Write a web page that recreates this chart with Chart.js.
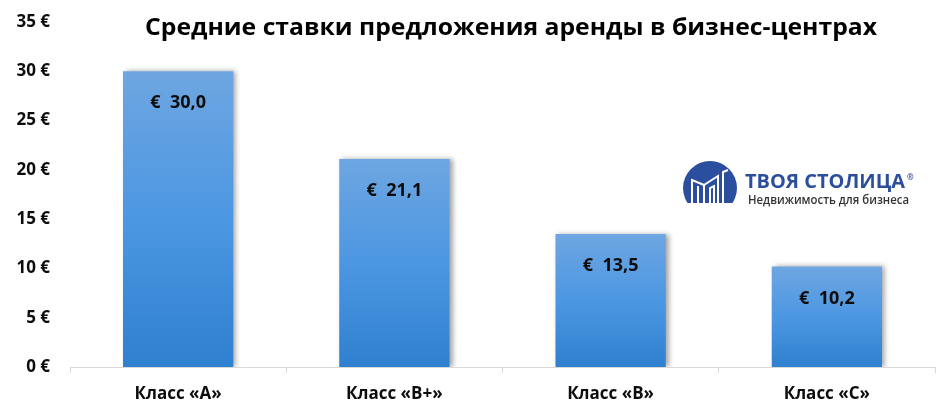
<!DOCTYPE html>
<html>
<head>
<meta charset="utf-8">
<script src="https://cdn.jsdelivr.net/npm/chart.js@4/dist/chart.umd.min.js"></script>
<style>
html,body{margin:0;padding:0;background:#fff;}
#wrap{width:943px;height:409px;position:relative;}
</style>
</head>
<body>
<div id="wrap"><canvas id="c" width="943" height="409"></canvas></div>
<script>
const categories = ['Класс «А»', 'Класс «В+»', 'Класс «В»', 'Класс «С»'];
const values = [30.0, 21.1, 13.5, 10.2];
const titleText = 'Средние ставки предложения аренды в бизнес-центрах';
const logoName = 'ТВОЯ СТОЛИЦА';
const logoTag = 'Недвижимость для бизнеса';
const FONT = '"Open Sans", "DejaVu Sans", sans-serif';

function barGradient(c) {
  const ch = c.chart;
  if (!ch.chartArea || !ch.scales.y) return '#4a93dc';
  const y = ch.scales.y;
  const top = y.getPixelForValue(c.raw);
  const bot = y.getPixelForValue(0);
  const g = ch.ctx.createLinearGradient(0, top, 0, bot);
  g.addColorStop(0, '#6ea6e1');
  g.addColorStop(0.5, '#4c97e2');
  g.addColorStop(1, '#2f80cf');
  return g;
}

function fitText(ctx, text, x, y, targetW) {
  const w = ctx.measureText(text).width;
  const s = targetW / w;
  ctx.save();
  ctx.translate(x, y);
  ctx.scale(s, 1);
  ctx.fillText(text, 0, 0);
  ctx.restore();
}

const decor = {
  id: 'decor',
  beforeDatasetsDraw(chart) {
    const ctx = chart.ctx;
    ctx.save();
    ctx.shadowColor = 'rgba(0,0,0,0.35)';
    ctx.shadowBlur = 5;
    ctx.shadowOffsetX = 3;
    ctx.shadowOffsetY = 0;
  },
  afterDatasetsDraw(chart) {
    const ctx = chart.ctx;
    ctx.restore();
    const meta = chart.getDatasetMeta(0);
    ctx.save();
    ctx.fillStyle = '#0d0d0d';
    ctx.font = 'bold 18px ' + FONT;
    ctx.textAlign = 'center';
    ctx.textBaseline = 'middle';
    meta.data.forEach((bar, i) => {
      const v = values[i];
      const txt = '€  ' + v.toFixed(1).replace('.', ',');
      ctx.fillText(txt, bar.x, bar.y + 32);
    });
    ctx.restore();
  },
  afterDraw(chart) {
    const ctx = chart.ctx;
    ctx.save();
    ctx.fillStyle = '#000';
    ctx.font = 'bold 24px ' + FONT;
    ctx.textAlign = 'left';
    ctx.textBaseline = 'middle';
    fitText(ctx, titleText, 145, 28, 732);
    ctx.restore();

    ctx.save();
    const cx = 710, cy = 188, r = 27;
    ctx.beginPath();
    ctx.rect(cx - r - 2, cy - r - 2, 2 * r + 4, 203 - (cy - r - 2));
    ctx.clip();
    ctx.beginPath();
    ctx.arc(cx, cy, r, 0, Math.PI * 2);
    ctx.fillStyle = '#2b4f9e';
    ctx.fill();
    ctx.strokeStyle = '#fff';
    ctx.lineWidth = 2;
    ctx.beginPath();
    ctx.moveTo(692, 204); ctx.lineTo(692, 180);
    ctx.lineTo(704, 185); ctx.lineTo(704, 204);
    ctx.moveTo(698, 204); ctx.lineTo(698, 186);
    ctx.moveTo(704, 185); ctx.lineTo(718, 176); ctx.lineTo(718, 204);
    ctx.moveTo(723, 204); ctx.lineTo(723, 172); ctx.lineTo(728, 170);
    ctx.moveTo(710, 204); ctx.lineTo(710, 188); ctx.lineTo(714, 186); ctx.lineTo(714, 204);
    ctx.stroke();
    ctx.restore();

    ctx.save();
    ctx.fillStyle = '#2b4f9e';
    ctx.font = 'bold 20px ' + FONT;
    ctx.textBaseline = 'alphabetic';
    fitText(ctx, logoName, 745, 188, 160);
    ctx.font = 'bold 8px ' + FONT;
    ctx.fillText('®', 907, 180);
    ctx.fillStyle = '#333';
    ctx.font = '600 12px ' + FONT;
    fitText(ctx, logoTag, 748, 204, 161);
    ctx.restore();
  }
};

new Chart(document.getElementById('c'), {
  type: 'bar',
  data: {
    labels: categories,
    datasets: [{
      data: values,
      backgroundColor: barGradient,
      borderWidth: 0,
      categoryPercentage: 1.0,
      barPercentage: 0.51
    }]
  },
  options: {
    responsive: false,
    animation: false,
    devicePixelRatio: 1,
    layout: { padding: { top: 22, right: 8, left: 0, bottom: 0 } },
    plugins: { legend: { display: false }, tooltip: { enabled: false }, title: { display: false } },
    scales: {
      x: {
        offset: true,
        grid: { display: true, offset: true, drawOnChartArea: false, drawTicks: true, tickLength: 6, color: '#d9d9d9', lineWidth: 1 },
        border: { display: true, color: '#d9d9d9', width: 1 },
        ticks: { color: '#0d0d0d', font: { family: FONT, size: 17, weight: 'bold' }, padding: 11, maxRotation: 0 },
        afterFit(s) { s.height = 42; }
      },
      y: {
        min: 0, max: 35,
        grid: { display: false, drawTicks: false },
        border: { display: false },
        ticks: { stepSize: 5, color: '#0d0d0d', font: { family: FONT, size: 17, weight: 'bold' }, padding: 20,
          callback: v => v + ' €' },
        afterFit(s) { s.width = 70; s.paddingTop = 0; s.paddingBottom = 0; }
      }
    }
  },
  plugins: [decor]
});
</script>
</body>
</html>
